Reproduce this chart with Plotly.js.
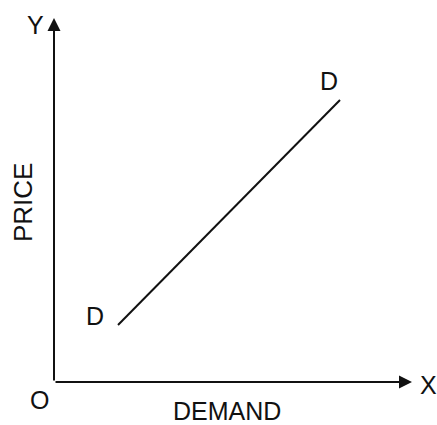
<!DOCTYPE html>
<html>
<head>
<meta charset="utf-8">
<script src="https://cdn.plot.ly/plotly-3.0.1.min.js"></script>
<style>html,body{margin:0;padding:0;background:#fff;}#chart{width:437px;height:425px;}</style>
</head>
<body>
<div id="chart"></div>
<script>
// Demand line D–D (data units: origin O at the axes corner)
const demandX = [64, 286];
const demandY = [57, 282];
const curveLabel = "D";
const xAxisLetter = "X";
const yAxisLetter = "Y";
const originLabel = "O";
const xTitle = "DEMAND";
const yTitle = "PRICE";
const xAxisEnd = 358;
const yAxisEnd = 364;

const font = {family: "Liberation Sans, Arial, sans-serif", size: 25, color: "#111"};

const trace = {
  x: demandX, y: demandY, type: "scatter", mode: "lines",
  line: {color: "#111", width: 2}, hoverinfo: "skip", showlegend: false
};

function txt(x, y, text, extra) {
  return Object.assign({x: x, y: y, xref: "x", yref: "y", text: text, showarrow: false,
    font: font, xanchor: "center", yanchor: "middle"}, extra || {});
}
function arrow(x, y) {
  return {x: x, y: y, ax: 0, ay: 0, xref: "x", yref: "y", axref: "x", ayref: "y",
    text: "", showarrow: true, arrowhead: 2, arrowsize: 1.3, arrowwidth: 2, arrowcolor: "#111", standoff: 0};
}

const layout = {
  width: 437, height: 425,
  margin: {l: 0, r: 0, t: 0, b: 0},
  paper_bgcolor: "#fff", plot_bgcolor: "#fff",
  xaxis: {range: [-54, 383], visible: false, fixedrange: true},
  yaxis: {range: [-43, 382], visible: false, fixedrange: true},
  showlegend: false,
  annotations: [
    arrow(xAxisEnd, 0),
    arrow(0, yAxisEnd),
    txt(demandX[0] - 23, demandY[0] + 9, curveLabel),
    txt(demandX[1] - 11, demandY[1] + 19, curveLabel),
    txt(-19, 357, yAxisLetter),
    txt(374, -3, xAxisLetter),
    txt(-15, -18, originLabel),
    txt(173, -29, xTitle),
    txt(-31, 179, yTitle, {textangle: -90, font: Object.assign({}, font, {size: 26})})
  ]
};

Plotly.newPlot("chart", [trace], layout, {displayModeBar: false, staticPlot: true});
</script>
</body>
</html>
